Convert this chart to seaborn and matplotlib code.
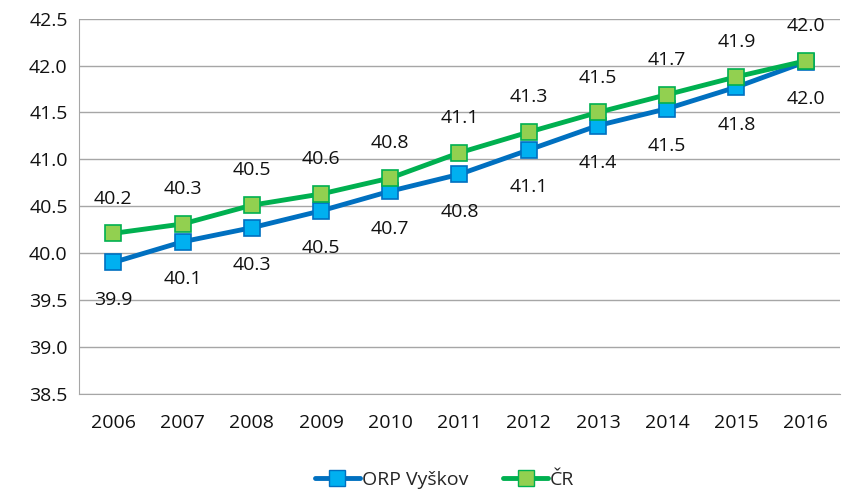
import pandas as pd
import seaborn as sns
import matplotlib.pyplot as plt

# data
years = ['2006', '2007', '2008', '2009', '2010', '2011', '2012', '2013', '2014', '2015', '2016']
orp_vyskov = [39.90, 40.12, 40.27, 40.45, 40.66, 40.84, 41.10, 41.36, 41.54, 41.77, 42.04]
cr = [40.21, 40.31, 40.51, 40.63, 40.80, 41.07, 41.29, 41.50, 41.69, 41.88, 42.05]
series_names = ['ORP Vyškov', 'ČR']

df = pd.DataFrame({'year': years * 2,
                   'value': orp_vyskov + cr,
                   'series': [series_names[0]] * len(years) + [series_names[1]] * len(years)})

sns.set_style('white')
plt.rcParams['font.family'] = ['Open Sans', 'DejaVu Sans']

fig, ax = plt.subplots(figsize=(8.47, 4.92), dpi=100)

line_colors = ['#0070C0', '#00B050']
face_colors = ['#00B0F0', '#92D050']

sns.lineplot(data=df, x='year', y='value', hue='series', palette=line_colors,
             linewidth=3.5, legend=False, ax=ax, sort=False)

# markers drawn per series so face/edge colours differ
for name, face, edge in zip(series_names, face_colors, line_colors):
  sub = df[df['series'] == name]
  ax.plot(sub['year'], sub['value'], linestyle='none', marker='s', markersize=11,
          markerfacecolor=face, markeredgecolor=edge, markeredgewidth=1.2, zorder=3)

# value labels: ORP below, CR above
fs = 14
for i in range(len(years)):
  ax.annotate(f'{orp_vyskov[i]:.1f}', (i, orp_vyskov[i]), xytext=(0, -27), textcoords='offset points',
              ha='center', va='center', fontsize=fs, color='#111111')
  ax.annotate(f'{cr[i]:.1f}', (i, cr[i]), xytext=(0, 25), textcoords='offset points',
              ha='center', va='center', fontsize=fs, color='#111111')

ax.set_ylim(38.5, 42.5)
ax.set_yticks([38.5 + 0.5 * k for k in range(9)])
ax.set_yticklabels([f'{38.5 + 0.5 * k:.1f}' for k in range(9)])
ax.set_xlim(-0.5, len(years) - 0.5)
ax.grid(axis='y', color='#A6A6A6', linewidth=1)
ax.set_axisbelow(True)
for s in ['top', 'right']:
  ax.spines[s].set_visible(False)
ax.spines['bottom'].set_color('#A6A6A6')
ax.spines['left'].set_color('#A6A6A6')
ax.tick_params(axis='both', labelsize=fs, colors='#111111', length=0, pad=8)
ax.tick_params(axis='x', pad=15)
ax.set_xlabel('')
ax.set_ylabel('')

# legend
handles = [plt.Line2D([], [], color=c, linewidth=3.5, marker='s', markersize=11,
                      markerfacecolor=f, markeredgecolor=c)
           for c, f in zip(line_colors, face_colors)]
fig.legend(handles, series_names, loc='lower center', ncol=2, frameon=False,
           fontsize=fs, handlelength=2.3, handletextpad=0.1, columnspacing=1.8,
           bbox_to_anchor=(0.525, -0.03))

fig.subplots_adjust(left=0.093, right=0.992, top=0.962, bottom=0.2)
fig.savefig('out.png')
